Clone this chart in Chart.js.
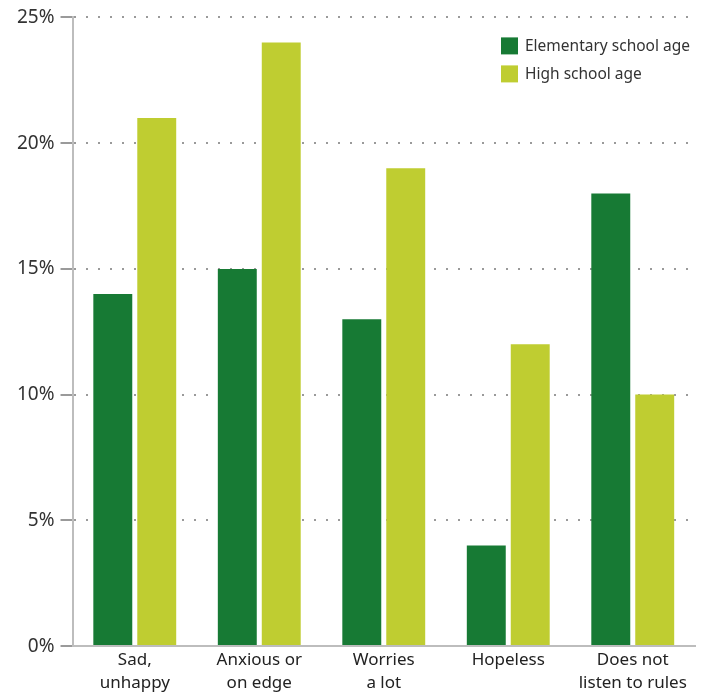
<!DOCTYPE html>
<html>
<head>
<meta charset="utf-8">
<script src="https://cdn.jsdelivr.net/npm/chart.js@4"></script>
<style>
  html, body { margin: 0; padding: 0; background: #fff; }
  #wrap { width: 709px; height: 694px; }
</style>
</head>
<body>
<div id="wrap"><canvas id="chart" width="709" height="694"></canvas></div>
<script>
const categories = [['Sad,', 'unhappy'], ['Anxious or', 'on edge'], ['Worries', 'a lot'], ['Hopeless'], ['Does not', 'listen to rules']];
const elementary = [14, 15, 13, 4, 18];
const highSchool = [21, 24, 19, 12, 10];
const yTicks = [0, 5, 10, 15, 20, 25];

const FONT = '"Noto Sans", "Open Sans", sans-serif';

// legend drawn in the top-right corner of the plot area
const cornerLegend = {
  id: 'cornerLegend',
  afterDraw(chart) {
    const c = chart.ctx;
    const area = chart.chartArea;
    const x = area.right - 194;
    let y = area.top + 20;
    c.save();
    c.font = '15.5px ' + FONT;
    c.textBaseline = 'middle';
    chart.data.datasets.forEach(ds => {
      c.fillStyle = ds.backgroundColor;
      c.fillRect(x, y, 17, 17);
      c.fillStyle = '#333';
      c.fillText(ds.label, x + 24, y + 9);
      y += 28;
    });
    c.restore();
  }
};

const ctx = document.getElementById('chart').getContext('2d');
new Chart(ctx, {
  type: 'bar',
  data: {
    labels: categories,
    datasets: [
      {
        label: 'Elementary school age',
        data: elementary,
        backgroundColor: '#177a34',
        barPercentage: 0.886,
        categoryPercentage: 0.706
      },
      {
        label: 'High school age',
        data: highSchool,
        backgroundColor: '#bfcd31',
        barPercentage: 0.886,
        categoryPercentage: 0.706
      }
    ]
  },
  options: {
    responsive: false,
    animation: false,
    layout: { padding: { top: 3, right: 14, bottom: -4, left: 11 } },
    plugins: {
      tooltip: { enabled: false },
      legend: { display: false }
    },
    scales: {
      x: {
        grid: { display: false, drawTicks: false },
        border: { display: true, color: '#bdbdbd', width: 2 },
        ticks: {
          color: '#222',
          font: { family: FONT, size: 17, lineHeight: 1.35 },
          maxRotation: 0,
          padding: 3
        }
      },
      y: {
        min: 0,
        max: 25,
        afterBuildTicks: axis => { axis.ticks = yTicks.map(v => ({ value: v })); },
        grid: {
          color: '#9a9a9a',
          lineWidth: 2,
          tickLength: 12,
          drawOnChartArea: true
        },
        border: { display: true, color: '#bdbdbd', width: 2, dash: [2, 10] },
        ticks: {
          color: '#333',
          font: { family: FONT, size: 19 },
          padding: 6,
          callback: v => v + '%'
        }
      }
    }
  },
  plugins: [cornerLegend]
});
</script>
</body>
</html>
